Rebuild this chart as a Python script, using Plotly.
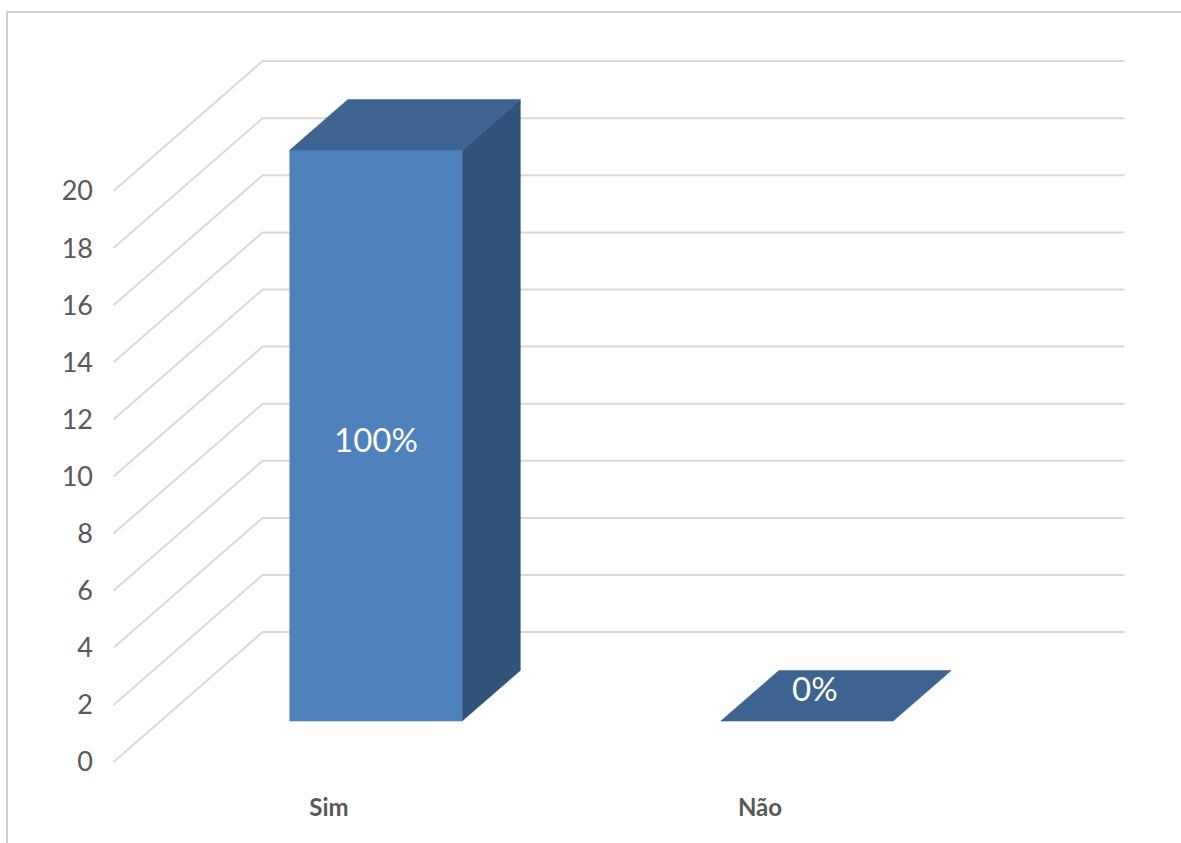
import plotly.graph_objects as go

# ---- data -------------------------------------------------------------
categories = ["Sim", "Não"]
counts = [20, 0]
pct_labels = ["100%", "0%"]
y_ticks = list(range(0, 21, 2))

# ---- pseudo 3-D geometry (data units) ----------------------------------
DEPTH_DX = 0.346      # horizontal shift of the full floor depth, in category units
DEPTH_DY = 4.55       # vertical shift of the full floor depth, in value units
BAR_HALF = 0.2        # half bar width, category units
BAR_FRONT = 0.315     # depth fraction of bar front face
BAR_BACK = 0.705      # depth fraction of bar back face
FLOOR_LEFT, FLOOR_RIGHT = -0.5, 1.5

FRONT_COLOR = "#4f81bd"
TOP_COLOR = "#3d6491"
SIDE_COLOR = "#325379"
GRID_COLOR = "#d9d9d9"
TEXT_GREY = "#595959"
FONT = "Lato"

# canvas / scale set-up
W, H = 1181, 843
M_L, M_B = 100, 60
PX_PER_CAT, X0_PX = 431.0, 329.0
PX_PER_UNIT, Y0_PX = 28.55, 762.0
plot_bottom = H - M_B
x_range = [(M_L - X0_PX) / PX_PER_CAT, (W - X0_PX) / PX_PER_CAT]
y_range = [-(plot_bottom - Y0_PX) / PX_PER_UNIT, Y0_PX / PX_PER_UNIT]


def proj(x, y, d):
    """Project a point at depth fraction d onto the chart plane."""
    return x + d * DEPTH_DX, y + d * DEPTH_DY


def face(points, color):
    xs, ys = zip(*points)
    return go.Scatter(
        x=list(xs) + [xs[0]], y=list(ys) + [ys[0]],
        mode="lines", fill="toself", fillcolor=color,
        line=dict(width=0.5, color=color), hoverinfo="skip", showlegend=False,
    )


fig = go.Figure()

# wall / floor gridlines: diagonal on the side wall, then across the back wall
gx, gy = [], []
for v in y_ticks:
    x1, y1 = proj(FLOOR_LEFT, v, 0)
    x2, y2 = proj(FLOOR_LEFT, v, 1)
    x3, y3 = proj(FLOOR_RIGHT, v, 1)
    gx += [x1, x2, x3, None]
    gy += [y1, y2, y3, None]
fig.add_trace(go.Scatter(x=gx, y=gy, mode="lines",
                         line=dict(color=GRID_COLOR, width=2),
                         hoverinfo="skip", showlegend=False))

# 3-D columns
for i, (cat, v) in enumerate(zip(categories, counts)):
    l, r = i - BAR_HALF, i + BAR_HALF
    if v > 0:
        fig.add_trace(face([proj(r, 0, BAR_FRONT), proj(r, 0, BAR_BACK),
                            proj(r, v, BAR_BACK), proj(r, v, BAR_FRONT)], SIDE_COLOR))
        fig.add_trace(face([proj(l, 0, BAR_FRONT), proj(r, 0, BAR_FRONT),
                            proj(r, v, BAR_FRONT), proj(l, v, BAR_FRONT)], FRONT_COLOR))
    fig.add_trace(face([proj(l, v, BAR_FRONT), proj(r, v, BAR_FRONT),
                        proj(r, v, BAR_BACK), proj(l, v, BAR_BACK)], TOP_COLOR))

# data labels
for i, (v, lab) in enumerate(zip(counts, pct_labels)):
    if v > 0:
        lx, ly = proj(i, v / 2, BAR_FRONT)
        yshift = -3
    else:
        lx, ly = proj(i - 0.05, v, (BAR_FRONT + BAR_BACK) / 2)
        yshift = 8
    fig.add_annotation(x=lx, y=ly, text=lab, showarrow=False, yshift=yshift,
                       font=dict(family=FONT, size=33, color="white"))

# chart border
fig.add_shape(type="rect", xref="paper", yref="paper",
              x0=(7 - M_L) / (W - M_L), x1=(W + 10 - M_L) / (W - M_L),
              y0=(plot_bottom - H - 10) / plot_bottom, y1=(plot_bottom - 12) / plot_bottom,
              line=dict(color="#cfcfcf", width=2), layer="below")

fig.update_layout(
    width=W, height=H, autosize=False,
    margin=dict(l=M_L, r=0, t=0, b=M_B),
    paper_bgcolor="white", plot_bgcolor="white",
    showlegend=False,
    xaxis=dict(range=x_range, tickvals=list(range(len(categories))),
               ticktext=[f"<b>{c}</b>" for c in categories],
               tickfont=dict(family=FONT, size=24, color=TEXT_GREY),
               showgrid=False, zeroline=False, showline=False, ticks="",
               ticklabelstandoff=8, fixedrange=True),
    yaxis=dict(range=y_range, tickvals=y_ticks,
               tickfont=dict(family=FONT, size=27, color=TEXT_GREY),
               showgrid=False, zeroline=False, showline=False, ticks="",
               ticklabelstandoff=6, fixedrange=True),
)

fig.write_html("out.html")
